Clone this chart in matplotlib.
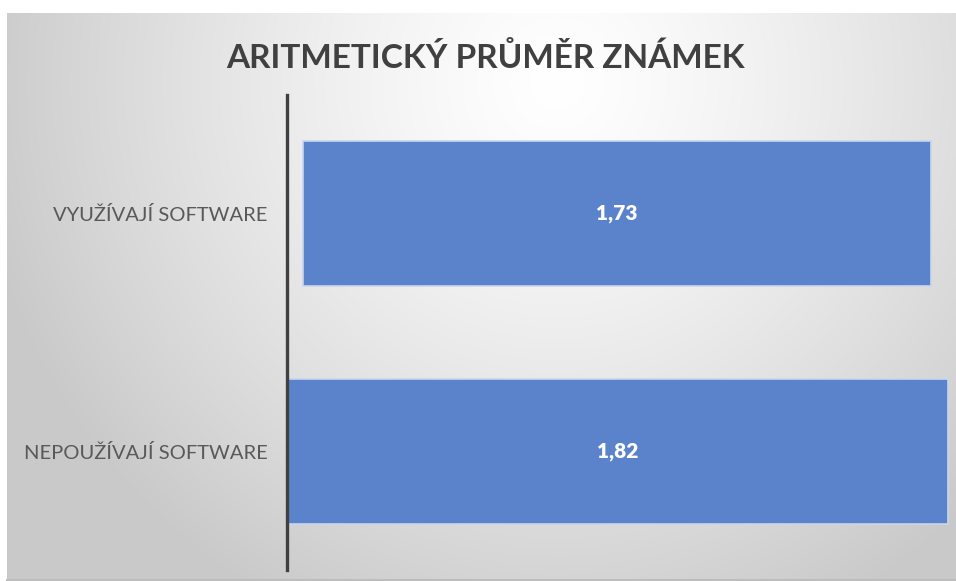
import numpy as np
import matplotlib
matplotlib.use('Agg')
import matplotlib.pyplot as plt

# data
categories = ['NEPOUŽÍVAJÍ SOFTWARE', 'VYUŽÍVAJÍ SOFTWARE']
values = [1.82, 1.73]
value_labels = ['1,82', '1,73']
title = 'ARITMETICKÝ PRŮMĚR ZNÁMEK'

# styles
bar_color = '#5b83cc'
text_dark = '#404040'
label_gray = '#595959'
# the upper bar in the original is drawn a little right of the axis
bar_shift = [0.0, 0.044]

plt.rcParams['font.family'] = ['Lato', 'DejaVu Sans']

W, H = 956, 581
fig = plt.figure(figsize=(W / 100, H / 100), dpi=100)
fig.patch.set_facecolor('white')

# chart area background with radial gradient
bg = fig.add_axes([7 / W, 0, (W - 7) / W, (H - 13) / H])
bg.set_axis_off()
nx, ny = 400, 240
xx, yy = np.meshgrid(np.linspace(0, 1, nx), np.linspace(0, 1, ny))
d = np.sqrt(((xx - 0.58) / 0.62) ** 2 + ((yy - 0.12) / 1.05) ** 2)
d = np.clip(d, 0, 1)
g = 1.0 - 0.21 * d ** 1.3
img = np.dstack([g, g, g])
bg.imshow(img, aspect='auto', extent=[0, 1, 1, 0], interpolation='bilinear')
bg.set_xlim(0, 1)
bg.set_ylim(1, 0)
bg.plot([0, 1], [0.001, 0.001], color='#bdbdbd', linewidth=1.5,
        transform=bg.transAxes, clip_on=False)

# bars
ax = fig.add_axes([287 / W, 11 / H, 663 / W, 475 / H])
ax.set_facecolor('none')
ypos = np.arange(len(categories))
ax.barh(ypos, values, left=bar_shift, height=0.61, color=bar_color,
        edgecolor='#c9d6ee', linewidth=1.2)
for y, v, s, lab in zip(ypos, values, bar_shift, value_labels):
    ax.text(s + v / 2, y, lab, ha='center', va='center', color='white',
            fontsize=15, fontweight='heavy')

ax.set_xlim(0, 1.826)
ax.set_ylim(-0.5, 1.5)
ax.set_yticks(ypos)
ax.set_yticklabels(categories, fontsize=14.5, color=label_gray)
ax.tick_params(axis='y', length=0, pad=14)
ax.set_xticks([])
for sp in ['top', 'right', 'bottom']:
    ax.spines[sp].set_visible(False)
ax.spines['left'].set_color(text_dark)
ax.spines['left'].set_linewidth(2.4)

fig.text(486 / W, 1 - 57 / H, title, ha='center', va='center',
         fontsize=24, fontweight='bold', color=text_dark)

fig.savefig('out.png', dpi=100)
